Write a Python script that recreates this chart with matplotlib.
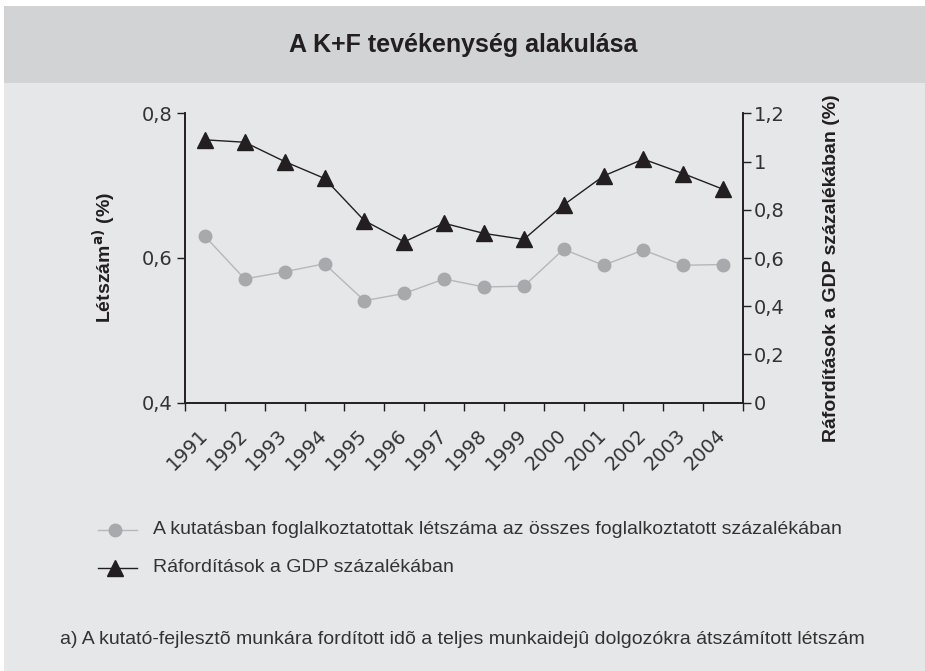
import matplotlib
matplotlib.use("Agg")
import matplotlib.pyplot as plt
from matplotlib.patches import Rectangle
from matplotlib.lines import Line2D
import matplotlib.transforms as mtransforms
import numpy as np

years = ["1991", "1992", "1993", "1994", "1995", "1996", "1997",
         "1998", "1999", "2000", "2001", "2002", "2003", "2004"]
letszam = [0.630, 0.571, 0.581, 0.592, 0.541, 0.551, 0.571,
           0.560, 0.561, 0.612, 0.590, 0.611, 0.590, 0.591]
raforditas = [1.09, 1.08, 1.00, 0.93, 0.755, 0.667, 0.744,
              0.702, 0.677, 0.82, 0.94, 1.01, 0.95, 0.885]
left_ticks = [0.4, 0.6, 0.8]
left_ticklabels = ["0,4", "0,6", "0,8"]
right_ticks = [0, 0.2, 0.4, 0.6, 0.8, 1.0, 1.2]
right_ticklabels = ["0", "0,2", "0,4", "0,6", "0,8", "1", "1,2"]

title = "A K+F tevékenység alakulása"
left_label = r"Létszám$^{\mathbf{a)}}$ (%)"
right_label = "Ráfordítások a GDP százalékában (%)"
legend_labels = ["A kutatásban foglalkoztatottak létszáma az összes foglalkoztatott százalékában",
                 "Ráfordítások a GDP százalékában"]
footnote = "a) A kutató-fejlesztõ munkára fordított idõ a teljes munkaidejû dolgozókra átszámított létszám"

W, H = 925, 671
fig = plt.figure(figsize=(W / 100, H / 100), dpi=100)
fig.patch.set_facecolor("white")

def fx(px):
    return px / W

def fy(py):
    return 1 - py / H

fig.add_artist(Rectangle((fx(4), 0), 1 - fx(4), fy(6), transform=fig.transFigure,
                         facecolor="#e6e7e8", edgecolor="none", zorder=-10))
fig.add_artist(Rectangle((fx(4), fy(83)), 1 - fx(4), fy(6) - fy(83), transform=fig.transFigure,
                         facecolor="#d1d3d4", edgecolor="none", zorder=-9))
fig.text(fx(463), fy(45), title, ha="center", va="center", fontsize=18,
         fontweight="bold", family="Liberation Sans", color="#231f20")

ax = fig.add_axes([fx(185), fy(402.7), fx(743) - fx(185), fy(113.3) - fy(402.7)])
ax.set_facecolor("none")
ax2 = ax.twinx()
ax2.set_facecolor("none")

x = np.arange(len(years))
dark = "#231f20"
grey_line = "#b5b7ba"
grey_mark = "#a7a9ac"
ax.plot(x, letszam, color=grey_line, lw=1.0, marker="o", markersize=9,
        markerfacecolor=grey_mark, markeredgecolor=grey_mark, zorder=3)
ax2.plot(x, raforditas, color=dark, lw=1.0, marker="^", markersize=11,
         markerfacecolor=dark, markeredgecolor=dark, zorder=3)

ax.set_xlim(-0.5, len(years) - 0.5)
ax.set_ylim(0.4, 0.8)
ax2.set_ylim(0, 1.2)

ax.set_yticks(left_ticks)
ax.set_yticklabels(left_ticklabels)
ax2.set_yticks(right_ticks)
ax2.set_yticklabels(right_ticklabels)

ax.set_xticks(x)
ax.set_xticklabels(years, rotation=45, ha="right", va="top", rotation_mode="anchor")
ax.set_xticks(np.arange(-0.5, len(years), 1.0), minor=True)
ax.tick_params(axis="x", which="major", length=0, pad=0, labelsize=14, labelcolor="#333333")
ax.tick_params(axis="x", which="minor", length=6, width=1.0, color=dark, direction="out")
offset = mtransforms.ScaledTranslation(-7 / 100, -23 / 100, fig.dpi_scale_trans)
for lab in ax.xaxis.get_majorticklabels():
    lab.set_transform(lab.get_transform() + offset)

for a in (ax, ax2):
    a.spines["top"].set_visible(False)
    for s in ("left", "right", "bottom"):
        a.spines[s].set_color(dark)
        a.spines[s].set_linewidth(1.2)
ax.tick_params(axis="y", length=6, width=1.0, color=dark, labelsize=14,
               labelcolor="#333333", pad=3)
ax2.tick_params(axis="y", length=6, width=1.0, color=dark, labelsize=14,
                labelcolor="#333333", pad=2)
for lab in ax.get_xticklabels() + ax.get_yticklabels() + ax2.get_yticklabels():
    lab.set_family("DejaVu Sans")

fig.text(fx(104), fy(258), left_label, rotation=90, ha="center", va="center",
         fontsize=14, fontweight="bold", family="Liberation Sans", color=dark)
fig.text(fx(832), fy(268), right_label, rotation=90, ha="center", va="center",
         fontsize=14, fontweight="bold", family="Liberation Sans", color=dark)

# legend, drawn at the reference positions
legend_rows = [530, 568]
legend_styles = [dict(color=grey_line, marker="o", markersize=9,
                      markerfacecolor=grey_mark, markeredgecolor=grey_mark),
                 dict(color=dark, marker="^", markersize=11,
                      markerfacecolor=dark, markeredgecolor=dark)]
for row, style, label in zip(legend_rows, legend_styles, legend_labels):
    fig.add_artist(Line2D([fx(98), fx(137)], [fy(row), fy(row)], lw=1.0,
                          color=style["color"], transform=fig.transFigure))
    fig.add_artist(Line2D([fx(115)], [fy(row)], transform=fig.transFigure, linestyle="none",
                          **{k: v for k, v in style.items() if k != "color"}))
    fig.text(fx(153), fy(row), label, ha="left", va="center", fontsize=14,
             family="Liberation Sans", color="#333333")

fig.text(fx(60), fy(640), footnote, ha="left", va="center", fontsize=14,
         family="Liberation Sans", color="#333333")

fig.savefig("out.png", dpi=100, facecolor=fig.get_facecolor())
